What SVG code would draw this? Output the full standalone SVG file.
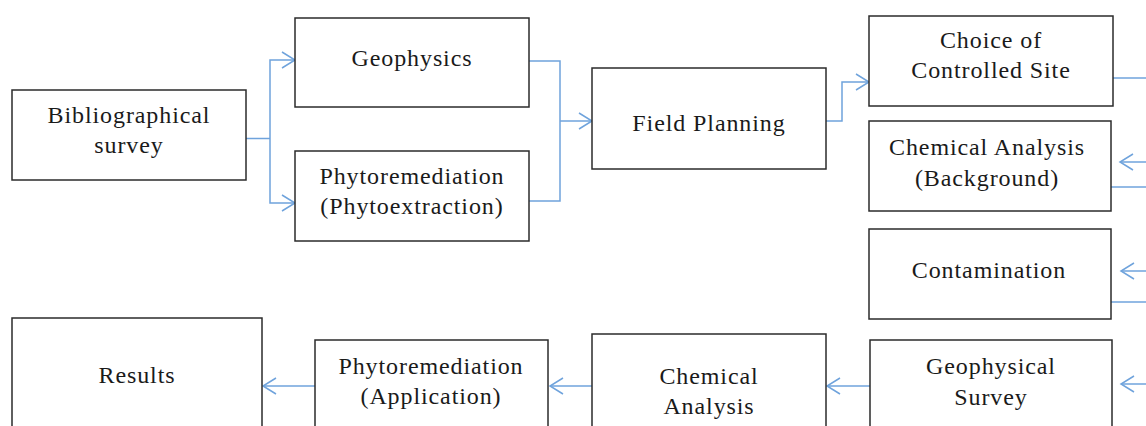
<svg xmlns="http://www.w3.org/2000/svg" width="1146" height="426" viewBox="0 0 1146 426">
  <style>
    .box { fill: #ffffff; stroke: #2b2b2b; stroke-width: 1.5; }
    .lbl { font-family: "Liberation Serif", "Times New Roman", serif; font-size: 24px; letter-spacing: 0.9px; fill: #1a1a1a; text-anchor: middle; }
    .wire { fill: none; stroke: #6fa3dc; stroke-width: 1.5; }
    .head { fill: none; stroke: #6fa3dc; stroke-width: 1.5; }
  </style>
  <rect width="1146" height="426" fill="#ffffff"/>

  <!-- connectors -->
  <g id="connectors">
    <!-- Bibliographical survey fan-out -->
    <path class="wire" d="M246 138.5 H270" stroke-width="2.5"/>
    <path class="wire" d="M295 60 H270 V203 H295"/>
    <path class="head" d="M282 52 L295 60 L282 68"/>
    <path class="head" d="M282 195 L295 203 L282 211"/>
    <!-- merge into Field Planning -->
    <path class="wire" d="M529 61 H560 V201 H529"/>
    <path class="wire" d="M560 121 H592"/>
    <path class="head" d="M579 113 L592 121 L579 129"/>
    <!-- Field Planning to Choice of Controlled Site -->
    <path class="wire" d="M826 121 H842 V82 H869"/>
    <path class="head" d="M856 74 L869 82 L856 90"/>
    <!-- right-side loop segments -->
    <path class="wire" d="M1113 78 H1146"/>
    <path class="wire" d="M1146 162 H1120"/>
    <path class="head" d="M1133 154 L1120 162 L1133 170"/>
    <path class="wire" d="M1111 187 H1146"/>
    <path class="wire" d="M1146 271 H1121"/>
    <path class="head" d="M1134 263 L1121 271 L1134 279"/>
    <path class="wire" d="M1111 302 H1146"/>
    <path class="wire" d="M1146 384 H1121"/>
    <path class="head" d="M1134 376 L1121 384 L1134 392"/>
    <!-- bottom row, right to left -->
    <path class="wire" d="M870 386 H827"/>
    <path class="head" d="M840 378 L827 386 L840 394"/>
    <path class="wire" d="M592 386 H550"/>
    <path class="head" d="M563 378 L550 386 L563 394"/>
    <path class="wire" d="M315 386 H263"/>
    <path class="head" d="M276 378 L263 386 L276 394"/>
  </g>

  <g id="bibliographical-survey">
    <rect class="box" x="12" y="90" width="234" height="90"/>
    <text class="lbl" x="129" y="123">Bibliographical</text>
    <text class="lbl" x="129" y="153">survey</text>
  </g>

  <g id="geophysics">
    <rect class="box" x="295" y="18" width="234" height="89"/>
    <text class="lbl" x="412" y="66">Geophysics</text>
  </g>

  <g id="phytoextraction">
    <rect class="box" x="295" y="151" width="234" height="90"/>
    <text class="lbl" x="412" y="184">Phytoremediation</text>
    <text class="lbl" x="412" y="214">(Phytoextraction)</text>
  </g>

  <g id="field-planning">
    <rect class="box" x="592" y="68" width="234" height="101"/>
    <text class="lbl" x="709" y="131">Field Planning</text>
  </g>

  <g id="controlled-site">
    <rect class="box" x="869" y="16" width="244" height="90"/>
    <text class="lbl" x="991" y="48">Choice of</text>
    <text class="lbl" x="991" y="78">Controlled Site</text>
  </g>

  <g id="chemical-background">
    <rect class="box" x="869" y="121" width="242" height="90"/>
    <text class="lbl" x="987" y="155">Chemical Analysis</text>
    <text class="lbl" x="987" y="186">(Background)</text>
  </g>

  <g id="contamination">
    <rect class="box" x="869" y="229" width="242" height="90"/>
    <text class="lbl" x="989" y="278">Contamination</text>
  </g>

  <g id="geophysical-survey">
    <rect class="box" x="870" y="340" width="242" height="100"/>
    <text class="lbl" x="991" y="374">Geophysical</text>
    <text class="lbl" x="991" y="405">Survey</text>
  </g>

  <g id="chemical-analysis">
    <rect class="box" x="592" y="334" width="234" height="106"/>
    <text class="lbl" x="709" y="384">Chemical</text>
    <text class="lbl" x="709" y="414">Analysis</text>
  </g>

  <g id="phytoremediation-application">
    <rect class="box" x="315" y="340" width="233" height="100"/>
    <text class="lbl" x="431" y="374">Phytoremediation</text>
    <text class="lbl" x="431" y="404">(Application)</text>
  </g>

  <g id="results">
    <rect class="box" x="12" y="318" width="250" height="122"/>
    <text class="lbl" x="137" y="383">Results</text>
  </g>
</svg>
